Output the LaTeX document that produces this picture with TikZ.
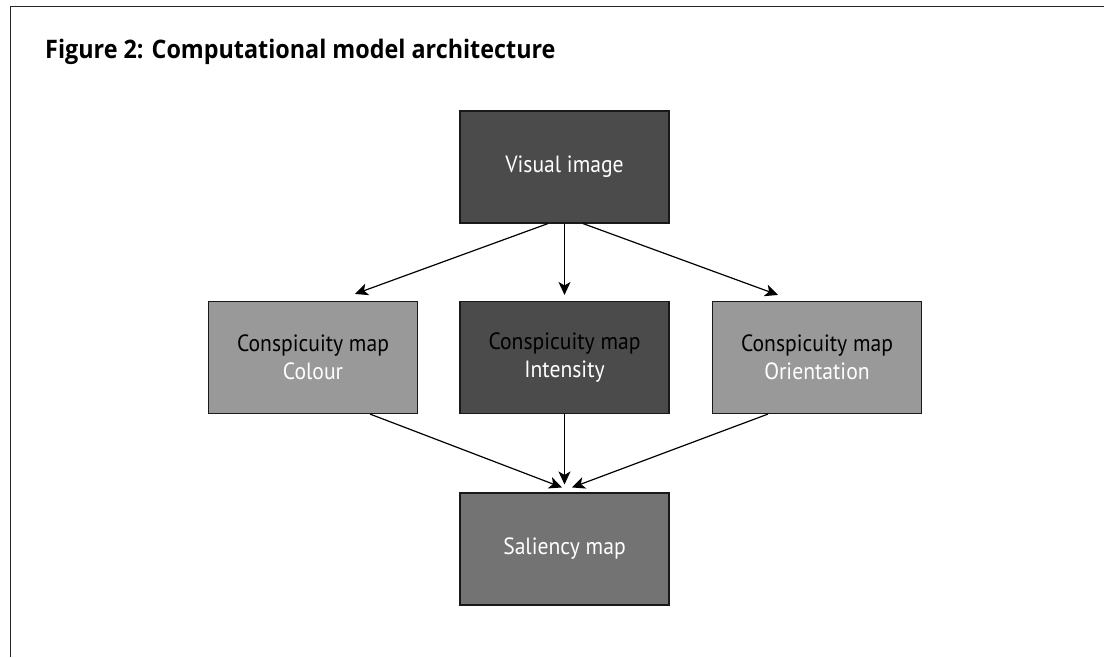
\documentclass[tikz,border=0pt]{standalone}
\usepackage{fontspec}
\setmainfont{PT Sans}[FakeStretch=0.92]
\newfontfamily\headfont{Open Sans}[FakeStretch=0.915]
\usetikzlibrary{arrows.meta,calc}
\definecolor{boxdark}{HTML}{4B4B4B}
\definecolor{boxlight}{HTML}{999999}
\definecolor{boxmid}{HTML}{737373}
\begin{document}
\begin{tikzpicture}[x=1pt,y=-1pt,
  box/.style={draw=black!90, line width=1.1pt, minimum width=209pt,
    minimum height=112pt, inner sep=0pt, align=center,
    font=\fontsize{23.5}{28}\selectfont},
  darkbox/.style={box, fill=boxdark},
  lightbox/.style={box, fill=boxlight},
  midbox/.style={box, fill=boxmid},
  link/.style={line width=1.2pt,
    -{Stealth[length=13pt,width=12pt,inset=3.5pt]}}]
\useasboundingbox (0,0) rectangle (1104,657);
\fill[white] (0,0) rectangle (1104,657);
% open frame
\draw[line width=1.8pt, black!85] (1104,6.5) -- (10.5,6.5) -- (10.5,657);
% heading
\node[anchor=base west, inner sep=0pt,
  font=\headfont\bfseries\fontsize{25.5}{30}\selectfont] (title) at (45,58)
  {Figure 2: Computational model architecture};
% boxes
\node[darkbox, text=white] (vis) at (564.5,167) {Visual image};
\node[lightbox] (col) at (313,357.5)
  {Conspicuity map\\\textcolor{white}{Colour}};
\node[darkbox] (int) at (564.5,357.5)
  {Conspicuity map\\\textcolor{white}{Intensity}};
\node[lightbox] (ori) at (817,357.5)
  {Conspicuity map\\\textcolor{white}{Orientation}};
\node[midbox, text=white] (sal) at (564.5,549) {Saliency map};
% connectors
\draw[link] ($(vis.south)+(-16.5,0)$) -- ($(col.north)+(42,-7)$);
\draw[link] (vis.south) -- ($(int.north)+(0,-6)$);
\draw[link] ($(vis.south)+(18.5,0)$) -- ($(ori.north)+(-39,-6)$);
\draw[link] ($(col.south)+(57,0)$) -- ($(sal.north)+(-2.5,-5)$);
\draw[link] (int.south) -- ($(sal.north)+(0,-8)$);
\draw[link] ($(ori.south)+(-49,0)$) -- ($(sal.north)+(7.5,-5)$);
\end{tikzpicture}
\end{document}
